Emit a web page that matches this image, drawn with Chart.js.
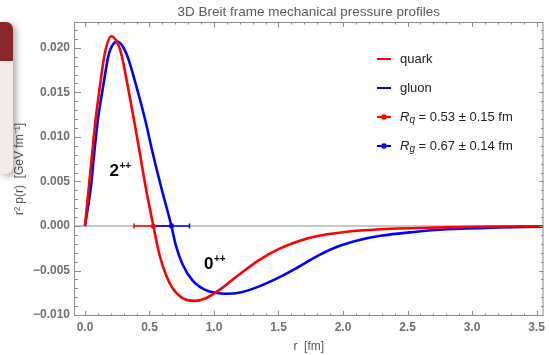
<!DOCTYPE html>
<html>
<head>
<meta charset="utf-8">
<script src="https://cdn.jsdelivr.net/npm/chart.js@4.4.0/dist/chart.umd.min.js"></script>
<style>
  html, body { margin: 0; padding: 0; background: #fff; }
  #wrap { position: relative; width: 549px; height: 355px; }
  /* the little window that sits over the left edge of the screenshot */
  #popup { position: absolute; left: 0; top: 22px; width: 13px; height: 152px;
           border-radius: 0 7px 7px 0; background: #f4eaea; overflow: hidden;
           box-shadow: 3px 2px 7px rgba(0,0,0,0.35); }
  #popup .head { height: 39px; background: #8c2527; }
</style>
</head>
<body>
<div id="wrap">
  <canvas id="myChart" width="549" height="355"></canvas>
  <div id="popup"><div class="head"></div></div>
</div>
<script>
// r in fm, r^2 p(r) in GeV/fm
const quarkR = [0, 0.03, 0.056, 0.082, 0.115, 0.154, 0.205, 0.25, 0.28, 0.333, 0.38, 0.425, 0.47, 0.53,
                0.577, 0.628, 0.68, 0.756, 0.846, 0.936, 1.04, 1.19, 1.346, 1.50, 1.654, 1.81, 2.0, 2.29,
                2.81, 3.2, 3.55];
const quarkP = [0, 0.0044, 0.0082, 0.0119, 0.0156, 0.0194, 0.0213, 0.0206, 0.0194, 0.0156, 0.0119, 0.0082, 0.0044, 0,
                -0.0032, -0.0055, -0.0070, -0.0081, -0.0084, -0.0081, -0.0072, -0.0055, -0.00385, -0.0026,
                -0.0017, -0.0011, -0.0007, -0.00037, -0.00014, -0.00006, -0.00002];

const gluonR = [0, 0.046, 0.072, 0.10, 0.14, 0.187, 0.25, 0.32, 0.40, 0.467, 0.525, 0.59, 0.67,
                0.705, 0.756, 0.833, 0.936, 1.013, 1.09, 1.19, 1.346, 1.50, 1.654, 1.81, 1.96, 2.12, 2.29,
                2.55, 2.81, 3.2, 3.55];
const gluonP = [0, 0.0044, 0.0082, 0.0119, 0.0156, 0.0194, 0.0207, 0.0194, 0.0156, 0.0119, 0.0082, 0.0044, 0,
                -0.0022, -0.0043, -0.0061, -0.0072, -0.0075, -0.0076, -0.0075, -0.0068, -0.0058, -0.0046,
                -0.0033, -0.0023, -0.0016, -0.0011, -0.00067, -0.00037, -0.00017, -0.00008];

// radii with errors: quark, gluon
const radii = [0.53, 0.67];
const radiusErr = [0.15, 0.14];

const xTicks = [0, 0.5, 1, 1.5, 2, 2.5, 3, 3.5];
const yTicks = [-0.010, -0.005, 0, 0.005, 0.010, 0.015, 0.020];

const RED = '#ff0000';
const BLUE = '#0000ff';
const GRAY = '#8a8a8a';

function pts(xs, ys) { return xs.map((x, i) => ({ x: x, y: ys[i] })); }

function errBar(i, color) {
  return {
    data: [{ x: radii[i] - radiusErr[i], y: 0 }, { x: radii[i] + radiusErr[i], y: 0 }],
    showLine: true, borderColor: color, borderWidth: 1.5,
    pointStyle: 'line', rotation: 90, pointRadius: 2.5,
    pointBorderColor: color, pointBorderWidth: 1.5
  };
}
function dot(i, color) {
  return {
    data: [{ x: radii[i], y: 0 }],
    pointRadius: 2.5, pointBackgroundColor: color, pointBorderColor: color, pointBorderWidth: 0
  };
}

// Mathematica-like frame with ticks pointing inward, title, labels and legend
const framePlugin = {
  id: 'frame',
  beforeDatasetsDraw(chart) {
    const { ctx, chartArea: a, scales: { y } } = chart;
    const y0 = y.getPixelForValue(0);
    ctx.save();
    ctx.strokeStyle = '#b4b4b4';
    ctx.lineWidth = 1.5;
    ctx.beginPath(); ctx.moveTo(a.left, y0); ctx.lineTo(a.right, y0); ctx.stroke();
    ctx.restore();
  },
  afterDraw(chart) {
    const { ctx, chartArea: a, scales: { x, y } } = chart;
    ctx.save();
    ctx.strokeStyle = GRAY;
    ctx.lineWidth = 1;
    ctx.strokeRect(a.left + 0.5, a.top + 0.5, a.right - a.left - 1, a.bottom - a.top - 1);

    ctx.beginPath();
    // x ticks every 0.1, major every 0.5
    for (let i = 0; i <= 35; i++) {
      const px = Math.round(x.getPixelForValue(i / 10)) + 0.5;
      const len = i % 5 === 0 ? 5 : 2.5;
      ctx.moveTo(px, a.bottom); ctx.lineTo(px, a.bottom - len);
      ctx.moveTo(px, a.top); ctx.lineTo(px, a.top + len);
    }
    // y ticks every 0.001, major every 0.005
    for (let j = -10; j <= 22; j++) {
      const py = Math.round(y.getPixelForValue(j / 1000)) + 0.5;
      const len = j % 5 === 0 ? 7 : 4;
      ctx.moveTo(a.left, py); ctx.lineTo(a.left + len, py);
      ctx.moveTo(a.right, py); ctx.lineTo(a.right - len * 0.6, py);
    }
    ctx.stroke();

    // title
    ctx.fillStyle = '#5a5a5a';
    ctx.font = '13.5px "Liberation Sans", Arial, sans-serif';
    ctx.textAlign = 'center';
    ctx.textBaseline = 'middle';
    ctx.fillText('3D Breit frame mechanical pressure profiles', (a.left + a.right) / 2, 12);

    // state labels
    ctx.fillStyle = '#000';
    ctx.textAlign = 'left';
    ctx.textBaseline = 'alphabetic';
    [['2', 0.19, 0.0056], ['0', 0.923, -0.0048]].forEach(([t, r, v]) => {
      const px = x.getPixelForValue(r), py = y.getPixelForValue(v);
      ctx.font = 'bold 17px "Liberation Sans", Arial, sans-serif';
      ctx.fillText(t, px, py);
      const w = ctx.measureText(t).width;
      ctx.font = 'bold 10px "Liberation Sans", Arial, sans-serif';
      ctx.fillText('++', px + w + 0.5, py - 7);
    });

    // legend
    const items = [
      { c: RED, dot: false, t: 'quark' },
      { c: BLUE, dot: false, t: 'gluon' },
      { c: RED, dot: true, sub: 'q', t: ' = 0.53 \u00b1 0.15 fm' },
      { c: BLUE, dot: true, sub: 'g', t: ' = 0.67 \u00b1 0.14 fm' }
    ];
    const ly = [59, 88, 117, 146];
    ctx.textBaseline = 'middle';
    items.forEach((it, k) => {
      const yy = ly[k];
      ctx.strokeStyle = it.c;
      ctx.lineWidth = 2;
      ctx.beginPath(); ctx.moveTo(377, yy); ctx.lineTo(391, yy); ctx.stroke();
      if (it.dot) {
        ctx.fillStyle = it.c;
        ctx.beginPath(); ctx.arc(384, yy, 2.8, 0, Math.PI * 2); ctx.fill();
      }
      ctx.fillStyle = '#222';
      let tx = 400;
      if (it.sub) {
        ctx.font = 'italic 13px "Liberation Sans", Arial, sans-serif';
        ctx.fillText('R', tx, yy);
        tx += ctx.measureText('R').width;
        ctx.font = 'italic 10px "Liberation Sans", Arial, sans-serif';
        ctx.fillText(it.sub, tx, yy + 3);
        tx += ctx.measureText(it.sub).width;
      }
      ctx.font = '13px "Liberation Sans", Arial, sans-serif';
      ctx.fillText(it.t, tx, yy);
    });
    ctx.restore();
  }
};

const tickFont = { family: '"Liberation Sans", Arial, sans-serif', size: 12, weight: 'bold' };
const titleFont = { family: '"Liberation Sans", Arial, sans-serif', size: 12 };

const config = {
  type: 'scatter',
  data: {
    datasets: [
      { data: pts(quarkR, quarkP), showLine: true, borderColor: RED, borderWidth: 2.6,
        pointRadius: 0, cubicInterpolationMode: 'monotone' },
      { data: pts(gluonR, gluonP), showLine: true, borderColor: BLUE, borderWidth: 2.6,
        pointRadius: 0, cubicInterpolationMode: 'monotone' },
      dot(0, RED),
      dot(1, BLUE),
      errBar(1, BLUE),
      errBar(0, RED)
    ]
  },
  options: {
    responsive: false,
    animation: false,
    layout: { padding: { top: 22, right: 2, left: 0, bottom: 0 } },
    plugins: { legend: { display: false }, tooltip: { enabled: false }, title: { display: false } },
    scales: {
      x: {
        type: 'linear', min: -0.085, max: 3.554,
        grid: { display: false, drawTicks: false }, border: { display: false },
        afterBuildTicks: s => { s.ticks = xTicks.map(v => ({ value: v })); },
        afterFit: s => { s.height = 39; },
        ticks: { color: '#707070', font: tickFont, padding: 4, maxRotation: 0,
                 callback: v => v.toFixed(1) },
        title: { display: true, text: 'r  [fm]', color: '#555', font: titleFont,
                 padding: { top: 0, bottom: 1 } }
      },
      y: {
        type: 'linear', min: -0.0101, max: 0.0229,
        grid: { display: false, drawTicks: false }, border: { display: false },
        afterBuildTicks: s => { s.ticks = yTicks.map(v => ({ value: v })); },
        afterFit: s => { s.width = 74; },
        ticks: { color: '#707070', font: tickFont, padding: 4,
                 callback: v => (v < 0 ? '\u2212' : '') + Math.abs(v).toFixed(3) },
        title: { display: true, text: 'r\u00b2 p(r)  [GeV fm\u207b\u00b9]', color: '#555', font: titleFont,
                 padding: { top: 12, bottom: 0 } }
      }
    }
  },
  plugins: [framePlugin]
};

new Chart(document.getElementById('myChart').getContext('2d'), config);
</script>
</body>
</html>
